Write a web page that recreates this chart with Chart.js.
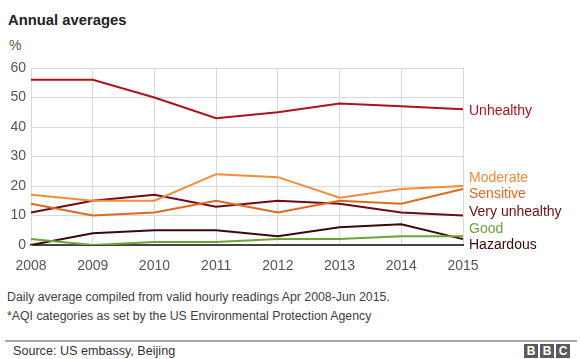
<!DOCTYPE html>
<html>
<head>
<meta charset="utf-8">
<script src="https://cdn.jsdelivr.net/npm/chart.js@4"></script>
<style>
    body { margin: 0; width: 580px; height: 359px; background: #fff; overflow: hidden;
           font-family: "Liberation Sans", Arial, sans-serif; position: relative; }
    .title { position: absolute; left: 8px; top: 12px; font-size: 14.8px; font-weight: bold; color: #222; }
    .unit { position: absolute; left: 9px; top: 37px; font-size: 14px; color: #555; }
    .note { position: absolute; left: 7px; font-size: 12.3px; color: #404040; }
    .rule { position: absolute; left: 5px; right: 3px; top: 340px; height: 2px; background: #a8a8a8; }
    .source { position: absolute; left: 13px; top: 344px; font-size: 12.6px; color: #333; }
    .bbc { position: absolute; left: 524px; top: 344px; display: flex; gap: 2px; }
    .bbc span { width: 14px; height: 14px; background: #5a5a5a; color: #fff; font-weight: bold;
                font-size: 12px; line-height: 14px; text-align: center; }
    #wrap { position: absolute; left: 0; top: 0; width: 580px; height: 280px; }
</style>
</head>
<body>
<div class="title">Annual averages</div>
<div class="unit">%</div>
<div id="wrap"><canvas id="aqiChart"></canvas></div>
<div class="note" style="top: 290px;">Daily average compiled from valid hourly readings Apr 2008-Jun 2015.</div>
<div class="note" style="top: 309px;">*AQI categories as set by the US Environmental Protection Agency</div>
<div class="rule"></div>
<div class="source">Source: US embassy, Beijing</div>
<div class="bbc"><span>B</span><span>B</span><span>C</span></div>

<script>
// Data
const years = ['2008', '2009', '2010', '2011', '2012', '2013', '2014', '2015'];
const unhealthy = [56, 56, 50, 43, 45, 48, 47, 46];
const moderate = [17, 15, 15, 24, 23, 16, 19, 20];
const sensitive = [14, 10, 11, 15, 11, 15, 14, 19];
const veryUnhealthy = [11, 15, 17, 13, 15, 14, 11, 10];
const good = [2, 0, 1, 1, 2, 2, 3, 3];
const hazardous = [0, 4, 5, 5, 3, 6, 7, 2];

// Where the end labels sit (in % units), spread out so they don't overlap
const labelNames = ['Unhealthy', 'Moderate', 'Sensitive', 'Very unhealthy', 'Good', 'Hazardous'];
const labelLevels = [45.5, 22.7, 17.2, 11.1, 5.4, 0];

const colors = {
    unhealthy: '#b0121c',
    moderate: '#f28c3a',
    sensitive: '#df6a1e',
    veryUnhealthy: '#6e0b17',
    good: '#6aa534',
    hazardous: '#3a0908'
};

function series(label, data, color) {
    return {
        label: label,
        data: data,
        borderColor: color,
        backgroundColor: color,
        borderWidth: 2,
        pointRadius: 0,
        tension: 0,
        fill: false
    };
}

const chartData = {
    labels: years,
    datasets: [
        series('Good', good, colors.good),
        series('Hazardous', hazardous, colors.hazardous),
        series('Sensitive', sensitive, colors.sensitive),
        series('Moderate', moderate, colors.moderate),
        series('Very unhealthy', veryUnhealthy, colors.veryUnhealthy),
        series('Unhealthy', unhealthy, colors.unhealthy)
    ]
};

// Draw the series names to the right of the last point
const endLabels = {
    id: 'endLabels',
    afterDatasetsDraw(chart) {
        const ctx = chart.ctx;
        const yScale = chart.scales.y;
        const x = chart.chartArea.right + 6;
        const labelColors = [colors.unhealthy, colors.moderate, colors.sensitive,
            colors.veryUnhealthy, colors.good, colors.hazardous];
        ctx.save();
        ctx.font = '14px "Liberation Sans", Arial, sans-serif';
        ctx.textBaseline = 'middle';
        ctx.textAlign = 'left';
        labelNames.forEach((name, i) => {
            ctx.fillStyle = labelColors[i];
            ctx.fillText(name, x, yScale.getPixelForValue(labelLevels[i]));
        });
        ctx.restore();
    }
};

const ctx = document.getElementById('aqiChart').getContext('2d');
new Chart(ctx, {
    type: 'line',
    data: chartData,
    plugins: [endLabels],
    options: {
        responsive: true,
        maintainAspectRatio: false,
        animation: false,
        layout: { padding: { top: 68, right: 117, left: 0, bottom: 0 } },
        plugins: {
            legend: { display: false },
            tooltip: { enabled: false }
        },
        scales: {
            x: {
                grid: { color: '#d9d9d9', drawTicks: false },
                border: { color: '#444', width: 2 },
                ticks: {
                    color: '#555',
                    padding: 13,
                    maxRotation: 0,
                    font: { family: '"Liberation Sans", Arial, sans-serif', size: 14 }
                },
                afterFit(scale) { scale.height = 35; }
            },
            y: {
                min: 0,
                max: 60,
                grid: { color: '#d9d9d9', drawTicks: false },
                border: { color: '#d9d9d9' },
                ticks: {
                    stepSize: 10,
                    color: '#555',
                    padding: 5,
                    font: { family: '"Liberation Sans", Arial, sans-serif', size: 14 }
                },
                afterFit(scale) { scale.width = 31; }
            }
        }
    }
});
</script>
</body>
</html>
